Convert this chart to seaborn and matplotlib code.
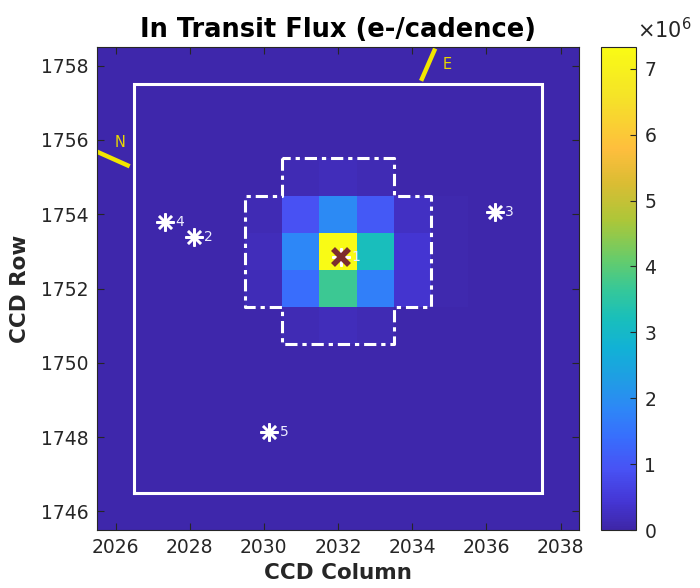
import numpy as np
import pandas as pd
import matplotlib
matplotlib.use('Agg')
import matplotlib.pyplot as plt
from matplotlib.colors import LinearSegmentedColormap
import seaborn as sns

# pixel grid (CCD rows top -> bottom, CCD columns left -> right)
rows = [1758, 1757, 1756, 1755, 1754, 1753, 1752, 1751, 1750, 1749, 1748, 1747, 1746]
cols = [2026, 2027, 2028, 2029, 2030, 2031, 2032, 2033, 2034, 2035, 2036, 2037, 2038]

# in transit flux, units of 1e6 e-/cadence
flux = [
    [0.03, 0.03, 0.03, 0.03, 0.03, 0.03, 0.03, 0.03, 0.03, 0.03, 0.03, 0.03, 0.03],
    [0.03, 0.03, 0.03, 0.03, 0.03, 0.03, 0.03, 0.03, 0.03, 0.03, 0.03, 0.03, 0.03],
    [0.03, 0.03, 0.03, 0.03, 0.03, 0.04, 0.04, 0.04, 0.03, 0.03, 0.03, 0.03, 0.03],
    [0.03, 0.03, 0.03, 0.03, 0.05, 0.14, 0.18, 0.14, 0.05, 0.03, 0.03, 0.03, 0.03],
    [0.03, 0.03, 0.03, 0.04, 0.14, 0.90, 1.90, 1.05, 0.28, 0.06, 0.03, 0.03, 0.03],
    [0.03, 0.03, 0.03, 0.05, 0.20, 1.85, 7.33, 3.20, 0.42, 0.08, 0.03, 0.03, 0.03],
    [0.03, 0.03, 0.03, 0.04, 0.16, 1.40, 3.70, 1.70, 0.38, 0.06, 0.03, 0.03, 0.03],
    [0.03, 0.03, 0.03, 0.03, 0.05, 0.14, 0.20, 0.14, 0.05, 0.03, 0.03, 0.03, 0.03],
    [0.03, 0.03, 0.03, 0.03, 0.03, 0.04, 0.04, 0.04, 0.03, 0.03, 0.03, 0.03, 0.03],
    [0.03, 0.03, 0.03, 0.03, 0.03, 0.03, 0.03, 0.03, 0.03, 0.03, 0.03, 0.03, 0.03],
    [0.03, 0.03, 0.03, 0.03, 0.03, 0.03, 0.03, 0.03, 0.03, 0.03, 0.03, 0.03, 0.03],
    [0.03, 0.03, 0.03, 0.03, 0.03, 0.03, 0.03, 0.03, 0.03, 0.03, 0.03, 0.03, 0.03],
    [0.03, 0.03, 0.03, 0.03, 0.03, 0.03, 0.03, 0.03, 0.03, 0.03, 0.03, 0.03, 0.03],
]

# nearby stars (column, row)
star_ids = ['1', '2', '3', '4', '5']
star_col = [2032.07, 2028.11, 2036.22, 2027.33, 2030.15]
star_row = [1752.85, 1753.39, 1754.07, 1753.80, 1748.14]
target_col = 2032.07
target_row = 1752.85

# optimal aperture (plus shape) and outer box outlines, pixel edges
aper_col = [2030.5, 2030.5, 2029.5, 2029.5, 2030.5, 2030.5, 2033.5, 2033.5, 2034.5, 2034.5, 2033.5, 2033.5, 2030.5]
aper_row = [1755.5, 1754.5, 1754.5, 1751.5, 1751.5, 1750.5, 1750.5, 1751.5, 1751.5, 1754.5, 1754.5, 1755.5, 1755.5]
box_col = [2026.5, 2037.5, 2037.5, 2026.5, 2026.5]
box_row = [1746.5, 1746.5, 1757.5, 1757.5, 1746.5]

# compass arrows
north_col = [2025.46, 2026.38]
north_row = [1755.70, 1755.29]
east_col = [2034.24, 2034.62]
east_row = [1757.59, 1758.46]

parula = LinearSegmentedColormap.from_list('parula', [
    (0.000, (0.2422, 0.1504, 0.6603)),
    (0.060, (0.2700, 0.2150, 0.8400)),
    (0.125, (0.2810, 0.3228, 0.9579)),
    (0.190, (0.2200, 0.4300, 0.9900)),
    (0.250, (0.1786, 0.5289, 0.9682)),
    (0.310, (0.1250, 0.6150, 0.8950)),
    (0.375, (0.0689, 0.6948, 0.8394)),
    (0.440, (0.1000, 0.7500, 0.7300)),
    (0.500, (0.2161, 0.7843, 0.5923)),
    (0.560, (0.4000, 0.8000, 0.4200)),
    (0.640, (0.6720, 0.7793, 0.2227)),
    (0.720, (0.8600, 0.7400, 0.2000)),
    (0.790, (0.9970, 0.7459, 0.2399)),
    (0.900, (0.9598, 0.8918, 0.1548)),
    (1.000, (0.9769, 0.9839, 0.0805)),
])

df = pd.DataFrame(flux, index=rows, columns=cols)

# heatmap cell i spans [i, i+1] -> convert CCD coords to heatmap coords
def cx(c):
    return np.asarray(c) - (cols[0] - 0.5)

def ry(r):
    return (rows[0] + 0.5) - np.asarray(r)

fig = plt.figure(figsize=(7, 5.88), dpi=100)
ax = fig.add_axes([0.1386, 0.0986, 0.6886, 0.8214])
cax = fig.add_axes([0.8586, 0.0986, 0.05, 0.8214])

sns.heatmap(df, cmap=parula, vmin=0, vmax=7.33, ax=ax, cbar_ax=cax,
            xticklabels=False, yticklabels=False)

dark = '#262626'
for sp in ax.spines.values():
    sp.set_visible(True)
    sp.set_color(dark)
    sp.set_linewidth(0.8)

xt = [2026, 2028, 2030, 2032, 2034, 2036, 2038]
yt = [1746, 1748, 1750, 1752, 1754, 1756, 1758]
ax.set_xticks(cx(xt))
ax.set_xticklabels([str(v) for v in xt])
ax.set_yticks(ry(yt))
ax.set_yticklabels([str(v) for v in yt], rotation=0)
ax.tick_params(direction='in', top=True, right=True, length=5, width=0.8,
               color=dark, labelcolor=dark, labelsize=13.5, pad=6)

# outlines
ax.plot(cx(box_col), ry(box_row), color='white', lw=2.2, solid_joinstyle='miter')
ax.plot(cx(aper_col), ry(aper_row), color='white', lw=2.2,
        linestyle=(0, (4, 1.6, 1.4, 1.6)))

# compass
ax.plot(cx(north_col), ry(north_row), color='#f2e600', lw=3.2, solid_capstyle='butt')
ax.plot(cx(east_col), ry(east_row), color='#f2e600', lw=3.2, solid_capstyle='butt')
ax.text(cx(2026.11), ry(1755.94), 'N', color='#e8d800', fontsize=10.5, ha='center', va='center')
ax.text(cx(2034.94), ry(1758.03), 'E', color='#e8d800', fontsize=10.5, ha='center', va='center')

# stars and labels
ax.plot(cx(star_col), ry(star_row), linestyle='none', marker=(8, 2, 0),
        markersize=13, mew=1.8, color='white')
for sid, c, r in zip(star_ids, star_col, star_row):
    ax.annotate(sid, (cx(c), ry(r)), xytext=(7.5, 0), textcoords='offset points',
                color='#ececff', fontsize=10, ha='left', va='center')
ax.plot(cx(target_col), ry(target_row), linestyle='none', marker='x',
        markersize=11.5, mew=4, color='#7d2e2e')

ax.set_title('In Transit Flux (e-/cadence)', fontsize=18.5, fontweight='bold', pad=7)
ax.set_xlabel('CCD Column', fontsize=15.5, fontweight='bold', color=dark, labelpad=4)
ax.set_ylabel('CCD Row', fontsize=15.5, fontweight='bold', color=dark, labelpad=8)

# colorbar
cb = ax.collections[0].colorbar
cb.outline.set_visible(True)
cb.outline.set_linewidth(0.8)
cb.outline.set_edgecolor(dark)
cb.set_ticks([0, 1, 2, 3, 4, 5, 6, 7])
cax.tick_params(direction='in', length=4, width=0.8, color=dark,
                labelcolor=dark, labelsize=13.5, pad=6)
fig.text(0.91, 0.95, r'$\times10^{6}$', fontsize=15, color=dark, ha='left', va='center')

fig.savefig('out.png', dpi=100)
